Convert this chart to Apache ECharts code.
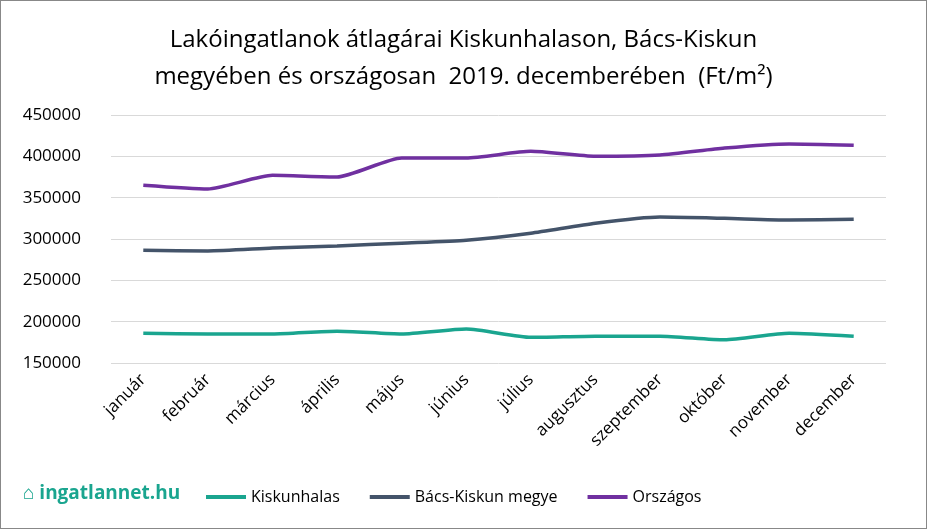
<!DOCTYPE html>
<html lang="hu">
<head>
<meta charset="UTF-8">
<script src="https://cdn.jsdelivr.net/npm/echarts@6/dist/echarts.min.js"></script>
<style>
  body { margin: 0; background: #fff; }
  #chart { width: 925px; height: 527px; border: 1px solid #888; }
</style>
</head>
<body>
<div id="chart"></div>
<script>
var months = ['január', 'február', 'március', 'április', 'május', 'június', 'július', 'augusztus', 'szeptember', 'október', 'november', 'december'];
var kiskunhalas = [186000, 185000, 185000, 188500, 185000, 191000, 181000, 182500, 182500, 178000, 186000, 182500];
var bacsKiskun = [286500, 285500, 289000, 291500, 295000, 298500, 307000, 319000, 326500, 325000, 323000, 324000];
var orszagos = [365000, 360500, 377000, 375000, 398000, 398000, 406000, 400000, 401500, 410000, 415000, 413500];

var chart = echarts.init(document.getElementById('chart'));
var font = 'Open Sans';
function line(name, data, color) {
  return { name: name, type: 'line', data: data, symbol: 'none', smooth: 0.2,
    lineStyle: { color: color, width: 3.5 }, itemStyle: { color: color } };
}
chart.setOption({
  title: {
    text: 'Lakóingatlanok átlagárai Kiskunhalason, Bács-Kiskun\nmegyében és országosan  2019. decemberében  (Ft/m²)',
    left: 'center', top: 16,
    textStyle: { fontFamily: font, fontWeight: 'normal', fontSize: 24, lineHeight: 37, color: '#000' }
  },
  graphic: [{
    type: 'text', left: 22, top: 483,
    style: { text: '⌂ ingatlannet.hu', fontFamily: font, fontSize: 19, fontWeight: 'bold', fill: '#1aa58f' }
  }],
  legend: {
    bottom: 18, left: 200, itemWidth: 40, itemHeight: 4, itemGap: 30,
    icon: 'rect',
    textStyle: { fontFamily: font, fontSize: 16, color: '#000' }
  },
  grid: { left: 110, right: 40, top: 114, bottom: 165 },
  xAxis: {
    type: 'category', data: months, boundaryGap: true,
    axisLine: { show: false }, axisTick: { show: false },
    axisLabel: { rotate: 45, fontFamily: font, fontSize: 17, color: '#000', margin: 14 }
  },
  yAxis: {
    type: 'value', min: 150000, max: 450000, interval: 50000,
    axisLabel: { fontFamily: font, fontSize: 17, color: '#000', margin: 30, formatter: function (v) { return String(v); } },
    splitLine: { lineStyle: { color: '#d9d9d9', width: 1 } },
    axisLine: { show: false }, axisTick: { show: false }
  },
  series: [
    line('Kiskunhalas', kiskunhalas, '#1aa58f'),
    line('Bács-Kiskun megye', bacsKiskun, '#44546a'),
    line('Országos', orszagos, '#7030a0')
  ]
});
</script>
</body>
</html>
